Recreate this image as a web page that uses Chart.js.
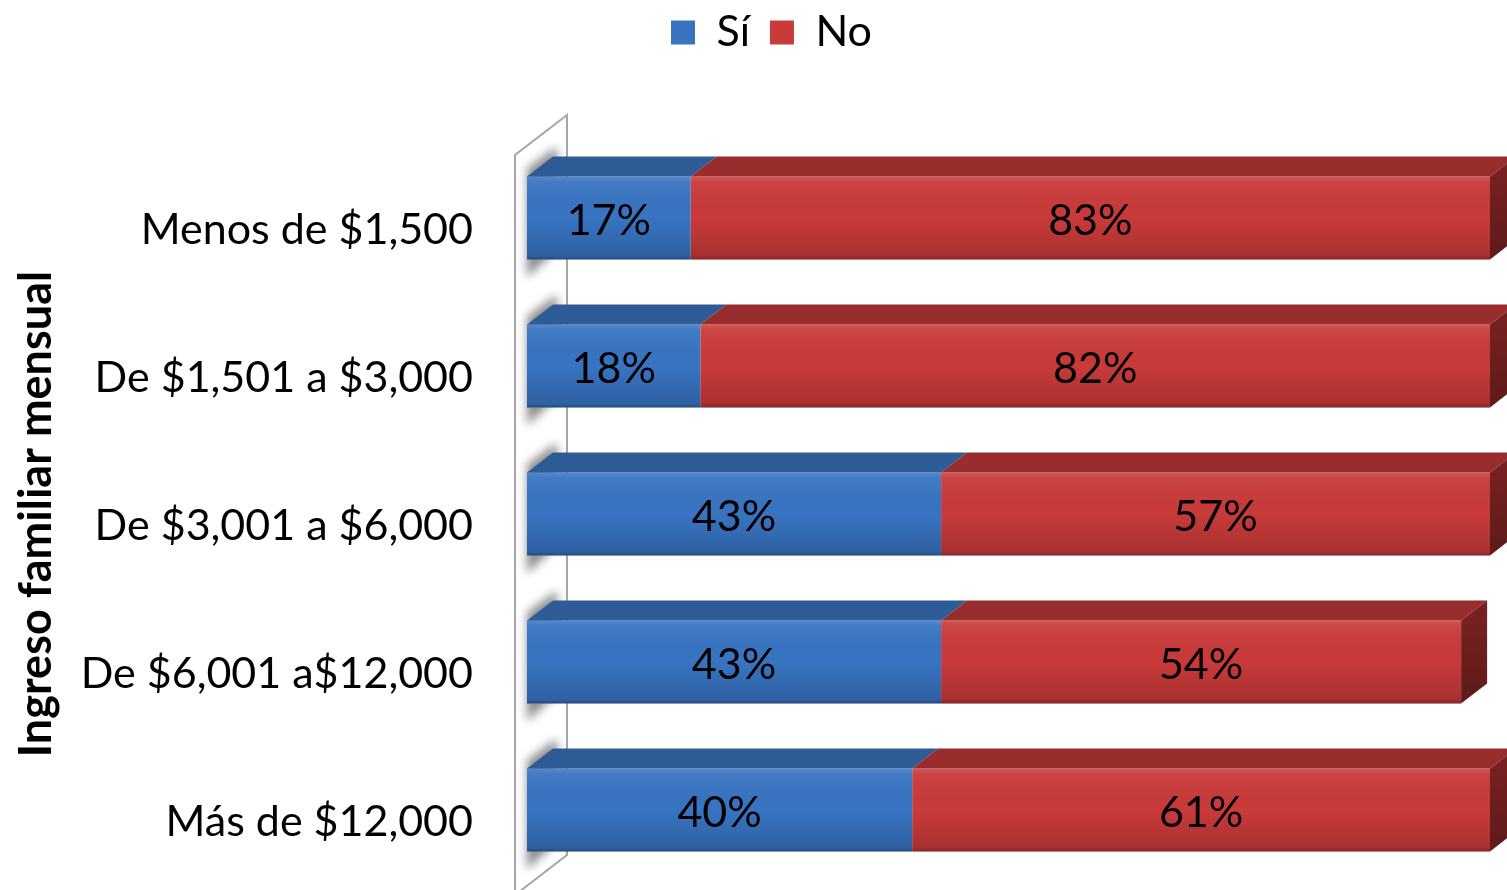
<!DOCTYPE html>
<html>
<head>
<meta charset="utf-8">
<script src="https://cdn.jsdelivr.net/npm/chart.js@4/dist/chart.umd.min.js"></script>
<style>
  body { margin: 0; background: #fff; }
  canvas { display: block; }
</style>
</head>
<body>
<canvas id="chart" width="1507" height="890"></canvas>
<script>
const categories = ["Menos de $1,500", "De $1,501 a $3,000", "De $3,001 a $6,000", "De $6,001 a$12,000", "Más de $12,000"];
const siValues = [17, 18, 43, 43, 40];
const noValues = [83, 82, 57, 54, 61];
const seriesNames = ["Sí", "No"];
const axisTitle = "Ingreso familiar mensual";

const FONT = "Lato, 'Open Sans', sans-serif";
const DX = 26, DY = 20;

//Colores de cada serie (frente, tapa, lateral)
const palette = [
    { front: "#3874c2", top: "#2d5c96", side: "#24497a" },
    { front: "#c93a3a", top: "#992c2c", side: "#762121" }
];

//Pared izquierda con sombras
const wallPlugin = {
    id: "wall",
    beforeDatasetsDraw(chart) {
        const { ctx, chartArea: a } = chart;
        const fx = a.left - 12, bx = a.left + 40;
        const wall = () => {
            ctx.beginPath();
            ctx.moveTo(fx, a.top + 11);
            ctx.lineTo(bx, a.top - 29);
            ctx.lineTo(bx, a.bottom - 29);
            ctx.lineTo(fx, a.bottom + 11);
            ctx.closePath();
        };
        ctx.save();
        wall();
        ctx.fillStyle = "#ffffff";
        ctx.fill();
        ctx.clip();
        ctx.filter = "blur(5px)";
        ctx.fillStyle = "rgba(0,0,0,0.45)";
        chart.getDatasetMeta(0).data.forEach(bar => {
            const top = bar.y - bar.height / 2, bottom = bar.y + bar.height / 2;
            ctx.beginPath();
            ctx.moveTo(a.left, top - 8);
            ctx.lineTo(a.left + 30, top - 30);
            ctx.lineTo(a.left + 30, bottom - 10);
            ctx.lineTo(a.left, bottom + 18);
            ctx.closePath();
            ctx.fill();
        });
        ctx.restore();
        ctx.save();
        wall();
        ctx.strokeStyle = "#a6a6a6";
        ctx.lineWidth = 2;
        ctx.stroke();
        ctx.restore();
    }
};

//Caras 3D, degradado y etiquetas
const barsPlugin = {
    id: "bars3d",
    afterDatasetsDraw(chart) {
        const { ctx, chartArea: a } = chart;
        const metas = [chart.getDatasetMeta(0), chart.getDatasetMeta(1)];
        categories.forEach((c, i) => {
            metas.forEach((meta, d) => {
                const bar = meta.data[i];
                const x0 = bar.base, x1 = Math.min(bar.x, a.right);
                const top = bar.y - bar.height / 2, bottom = bar.y + bar.height / 2;
                const col = palette[d];

                //Degradado frente
                const g = ctx.createLinearGradient(0, top, 0, bottom);
                g.addColorStop(0, "rgba(255,255,255,0.16)");
                g.addColorStop(0.06, "rgba(255,255,255,0.06)");
                g.addColorStop(0.5, "rgba(0,0,0,0)");
                g.addColorStop(0.95, "rgba(0,0,0,0.16)");
                g.addColorStop(1, "rgba(0,0,0,0.35)");
                ctx.fillStyle = g;
                ctx.fillRect(x0, top, x1 - x0, bottom - top);

                //Tapa
                ctx.beginPath();
                ctx.moveTo(x0, top);
                ctx.lineTo(x1, top);
                ctx.lineTo(x1 + DX, top - DY);
                ctx.lineTo(x0 + DX, top - DY);
                ctx.closePath();
                ctx.fillStyle = col.top;
                ctx.fill();

                //Lateral
                if (d === metas.length - 1) {
                    const gs = ctx.createLinearGradient(0, top, 0, bottom);
                    gs.addColorStop(0, col.side);
                    gs.addColorStop(1, "#5e1a1a");
                    ctx.beginPath();
                    ctx.moveTo(x1, top);
                    ctx.lineTo(x1 + DX, top - DY);
                    ctx.lineTo(x1 + DX, bottom - DY);
                    ctx.lineTo(x1, bottom);
                    ctx.closePath();
                    ctx.fillStyle = gs;
                    ctx.fill();
                }

                //Etiqueta
                const v = chart.data.datasets[d].data[i];
                ctx.fillStyle = "#000";
                ctx.font = "43px " + FONT;
                ctx.textAlign = "center";
                ctx.textBaseline = "middle";
                ctx.fillText(v + "%", (x0 + x1) / 2, bar.y + 3);
            });
        });
    }
};

//Altura de la leyenda y centrado
const legendPlugin = {
    id: "legendFit",
    beforeInit(chart) {
        const fit = chart.legend.fit;
        chart.legend.fit = function () {
            fit.bind(chart.legend)();
            this.height = 144;
        };
    },
    afterLayout(chart) {
        chart.legend.left += 24;
        chart.legend.right += 24;
        chart.legend.top -= 9;
        chart.legend.bottom -= 9;
    }
};

new Chart(document.getElementById("chart"), {
    type: "bar",
    data: {
        labels: categories,
        datasets: [
            { label: seriesNames[0], data: siValues, backgroundColor: palette[0].front, borderWidth: 0 },
            { label: seriesNames[1], data: noValues, backgroundColor: palette[1].front, borderWidth: 0 }
        ]
    },
    options: {
        indexAxis: "y",
        responsive: false,
        animation: false,
        layout: { padding: { left: 5, right: 17, top: 0, bottom: 6 } },
        datasets: { bar: { categoryPercentage: 1, barPercentage: 0.56 } },
        scales: {
            x: { stacked: true, display: false, min: 0, max: 100 },
            y: {
                stacked: true,
                grid: { display: false },
                border: { display: false },
                ticks: { color: "#000", padding: 46, labelOffset: 12, font: { family: FONT, size: 43 } },
                title: {
                    display: true,
                    text: axisTitle,
                    color: "#000",
                    padding: { top: 4 },
                    font: { family: FONT, size: 45, weight: "bold" }
                },
                afterFit(s) {
                    s.width = 522;
                    s.paddingTop = 0;
                    s.paddingBottom = 0;
                }
            }
        },
        plugins: {
            legend: {
                position: "top",
                labels: {
                    color: "#000",
                    boxWidth: 24,
                    boxHeight: 24,
                    padding: 20,
                    font: { family: FONT, size: 43 }
                }
            },
            tooltip: { enabled: false }
        }
    },
    plugins: [wallPlugin, barsPlugin, legendPlugin]
});
</script>
</body>
</html>
